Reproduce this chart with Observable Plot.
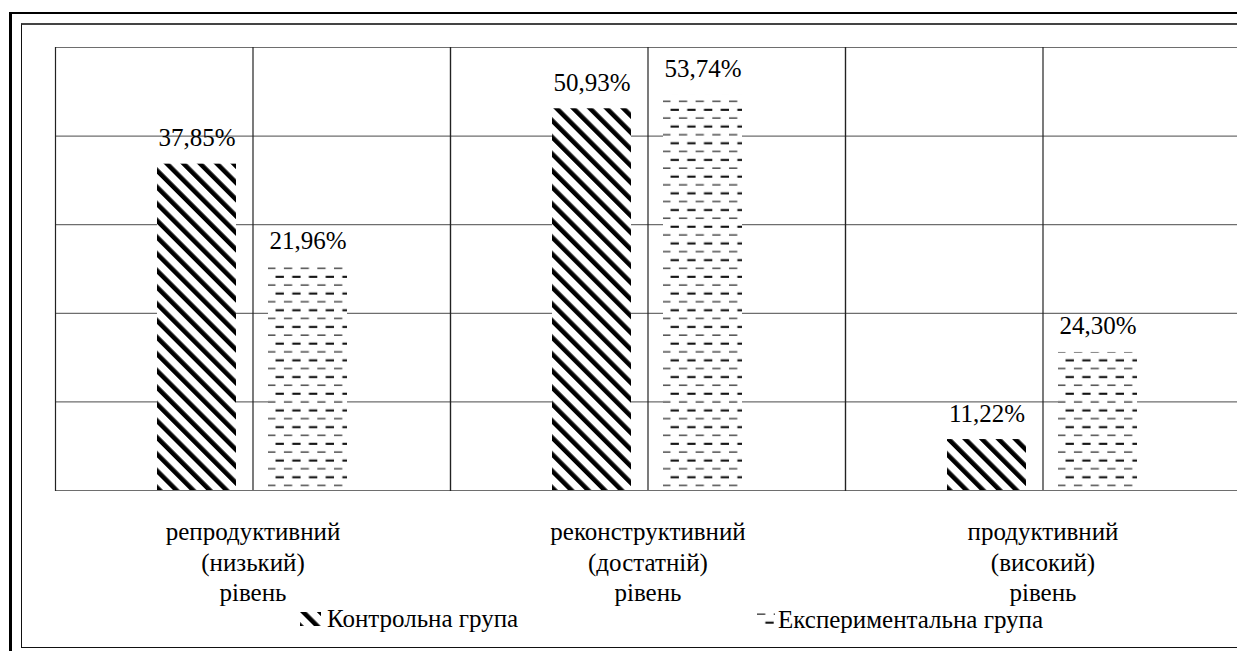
<!DOCTYPE html>
<html>
<head>
<meta charset="utf-8">
<script src="https://cdn.jsdelivr.net/npm/d3@7"></script>
<script src="https://cdn.jsdelivr.net/npm/@observablehq/plot@0.6"></script>
<style>
  html, body { margin: 0; padding: 0; background: #fff; overflow: hidden; width: 1237px; height: 651px; position: relative;
    font-family: "Times New Roman", Times, Tinos, "Liberation Serif", "Noto Serif", "DejaVu Serif", FreeSerif, "Nimbus Roman", serif; }
  #outer { position: absolute; left: 9px; top: 12px; width: 2000px; height: 2000px; border-left: 3px solid #000; border-top: 2px solid #000; }
  #inner { position: absolute; left: 21px; top: 23px; width: 2000px; height: 621.5px; border-left: 1px solid #111; border-top: 2px solid #444; border-bottom: 1.5px solid #111; }
  #chart { position: absolute; left: 0; top: 0; }
  .leg { position: absolute; font-size: 25px; line-height: 25px; color: #000; white-space: nowrap; }
  .sw { position: absolute; display: block; }
</style>
</head>
<body>
<div id="outer"></div>
<div id="inner"></div>
<div id="chart"></div>
<div id="legend"></div>
<script>
// ---- data ----
const categories = [
  "репродуктивний\n(низький)\nрівень",
  "реконструктивний\n(достатній)\nрівень",
  "продуктивний\n(високий)\nрівень"
];
const groups = ["Контрольна група", "Експериментальна група"];
// percentages printed above the bars
const controlValues = [37.85, 50.93, 11.22];
const experimentalValues = [21.96, 53.74, 24.30];
// bar heights as drawn in the reference (its value axis is unlabelled; read on a 0–60 grid)
const controlDrawn = [44.2, 51.7, 6.9];
const experimentalDrawn = [30.3, 53.5, 18.7];
const gridValues = [0, 12, 24, 36, 48, 60];

const rows = [];
categories.forEach((c, i) => {
  rows.push({category: c, group: groups[0], value: controlValues[i], drawn: controlDrawn[i]});
  rows.push({category: c, group: groups[1], value: experimentalValues[i], drawn: experimentalDrawn[i]});
});
const fmt = v => v.toFixed(2).replace(".", ",") + "%";

const patternDefs = (s) => `
  <pattern id="stripes${s}" patternUnits="userSpaceOnUse" width="11.8" height="11.8" patternTransform="rotate(-45)">
    <rect width="11.8" height="11.8" fill="#fff"/>
    <rect width="4.6" height="11.8" fill="#000"/>
  </pattern>
  <pattern id="dashes${s}" patternUnits="userSpaceOnUse" width="16.7" height="16.7">
    <rect width="16.7" height="16.7" fill="#fff"/>
    <rect x="0" y="0.5" width="8.3" height="1.3" fill="#333"/>
    <rect x="8.35" y="8.6" width="8.35" height="2.1" fill="#111"/>
  </pattern>`;

const serif = "'Times New Roman', Times, Tinos, 'Liberation Serif', 'Noto Serif', 'DejaVu Serif', FreeSerif, 'Nimbus Roman', serif";
const chart = Plot.plot({
  width: 1260,
  height: 651,
  marginLeft: 55,
  marginRight: 20,
  marginTop: 47,
  marginBottom: 161,
  style: {background: "transparent", maxWidth: "none", fontFamily: serif, overflow: "visible", color: "#000"},
  fx: {domain: categories, padding: 0, axis: null},
  x: {domain: groups, paddingInner: 0.288, paddingOuter: 0.923, axis: null},
  y: {domain: [0, 60], axis: null},
  marks: [
    Plot.ruleY(gridValues, {stroke: "#6e6e6e", strokeWidth: 1.2}),
    Plot.frame({anchor: "left", stroke: "#222", strokeWidth: 1.2}),
    Plot.frame({anchor: "right", stroke: "#222", strokeWidth: 1.2}),
    Plot.ruleX(categories, {fx: d => d, x: null, stroke: "#222", strokeWidth: 1.2}),
    Plot.barY(rows.filter(d => d.group === groups[0]), {fx: "category", x: "group", y: "drawn", fill: "url(#stripesP)"}),
    Plot.barY(rows.filter(d => d.group === groups[1]), {fx: "category", x: "group", y: "drawn", fill: "url(#dashesP)"}),
    Plot.text(rows, {fx: "category", x: "group", y: "drawn", text: d => fmt(d.value), lineAnchor: "bottom", dy: -18, fontSize: 25, fontFamily: serif, fill: "#000"}),
    Plot.text(categories, {fx: d => d, text: d => d, frameAnchor: "bottom", lineAnchor: "top", dy: 28, fontSize: 25, lineHeight: 1.22, fontFamily: serif, fill: "#000"})
  ]
});
d3.select(chart).insert("defs", ":first-child").html(patternDefs("P"));
document.getElementById("chart").appendChild(chart);

// ---- legend ----
const legend = document.getElementById("legend");
legend.innerHTML = `
  <svg class="sw" style="left:300px;top:612px" width="21" height="14"><defs>${patternDefs("L")}</defs>
    <rect width="21" height="14" fill="url(#stripesL)"/></svg>
  <span class="leg" style="left:327px;top:606px">${groups[0]}</span>
  <svg class="sw" style="left:757px;top:613px" width="18" height="14"><defs>${patternDefs("M")}</defs>
    <rect width="18" height="14" fill="url(#dashesM)"/></svg>
  <span class="leg" style="left:778px;top:606.5px">${groups[1]}</span>`;
</script>
</body>
</html>
